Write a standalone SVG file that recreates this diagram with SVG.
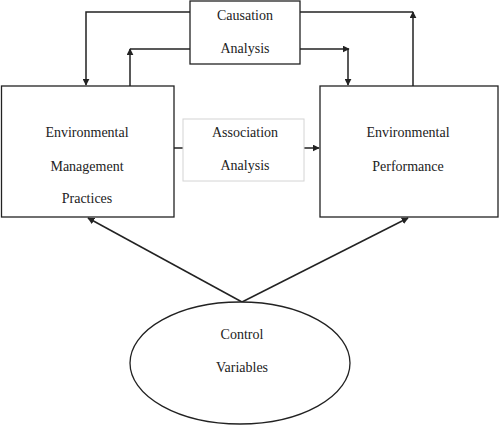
<svg xmlns="http://www.w3.org/2000/svg" width="500" height="425" viewBox="0 0 500 425">
<style>
.box{fill:#fff;stroke:#222;stroke-width:1.3}
.abox{fill:#fff;stroke:#d4d4d4;stroke-width:1}
.t{font-family:"Liberation Serif","Times New Roman",serif;font-size:14px;fill:#222;text-anchor:middle;dominant-baseline:central}
.c{fill:none;stroke:#222;stroke-width:1.5}
</style>
<defs>
<marker id="ah" viewBox="0 0 10 10" refX="9" refY="5" markerWidth="7" markerHeight="7" markerUnits="userSpaceOnUse" orient="auto">
<path d="M0,0 L10,5 L0,10 z" fill="#222"/>
</marker>
</defs>
<rect width="500" height="425" fill="#fff"/>
<g id="connectors">
<path class="c" d="M190,12 H86 V85" marker-end="url(#ah)"/>
<path class="c" d="M190,49 H130"/>
<path class="c" d="M130,86 V49" marker-end="url(#ah)"/>
<path class="c" d="M300,49 H349" marker-end="url(#ah)"/>
<path class="c" d="M348,49 V85" marker-end="url(#ah)"/>
<path class="c" d="M300,12 H413"/>
<path class="c" d="M413,86 V12" marker-end="url(#ah)"/>
<path class="c" d="M174,148 H183"/>
<path class="c" d="M304,148 H319" marker-end="url(#ah)"/>
<path class="c" d="M242,302 L88,218" marker-end="url(#ah)"/>
<path class="c" d="M242,302 L408,218" marker-end="url(#ah)"/>
</g>
<g id="causation">
<rect class="box" x="190" y="1" width="110" height="63"/>
<text class="t" x="245" y="15">Causation</text>
<text class="t" x="245" y="48">Analysis</text>
</g>
<g id="emp">
<rect class="box" x="1.5" y="86" width="172.5" height="131"/>
<text class="t" x="87" y="132">Environmental</text>
<text class="t" x="87" y="166">Management</text>
<text class="t" x="87" y="198">Practices</text>
</g>
<g id="ep">
<rect class="box" x="320" y="86" width="178" height="131"/>
<text class="t" x="408" y="132">Environmental</text>
<text class="t" x="408" y="166">Performance</text>
</g>
<g id="association">
<rect class="abox" x="183" y="119" width="121" height="62"/>
<text class="t" x="245" y="132">Association</text>
<text class="t" x="245" y="165">Analysis</text>
</g>
<g id="control">
<ellipse class="box" cx="240" cy="363" rx="110" ry="61"/>
<text class="t" x="242" y="334">Control</text>
<text class="t" x="242" y="367">Variables</text>
</g>
</svg>
